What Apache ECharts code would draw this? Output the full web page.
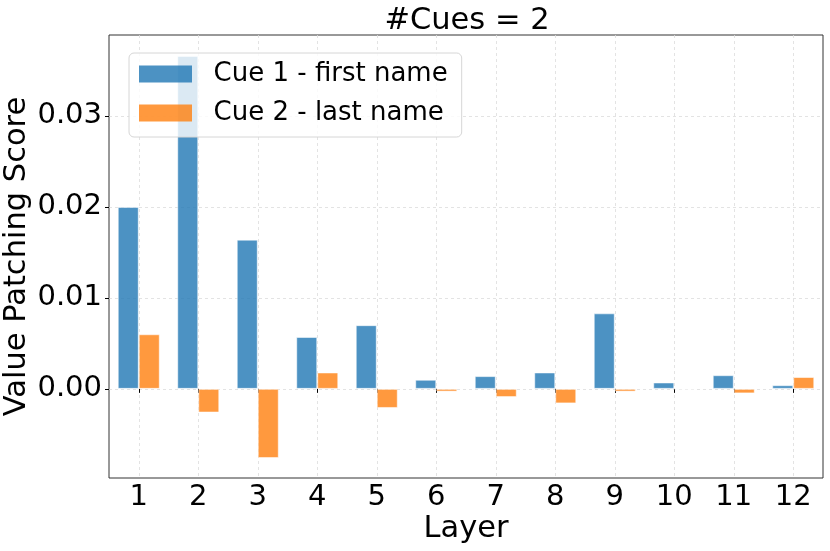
<!DOCTYPE html>
<html>
<head>
<meta charset="utf-8">
<script src="https://cdn.jsdelivr.net/npm/echarts@6/dist/echarts.min.js"></script>
<style>
html,body{margin:0;padding:0;background:#fff;}
#c{width:830px;height:551px;}
</style>
</head>
<body>
<div id="c"></div>
<script>
const layers = [1,2,3,4,5,6,7,8,9,10,11,12];
const cue1 = [0.0200, 0.0366, 0.0164, 0.0057, 0.0070, 0.0010, 0.0014, 0.0018, 0.0083, 0.0007, 0.0015, 0.0004];
const cue2 = [0.0060, -0.0026, -0.0076, 0.0018, -0.0021, -0.0003, -0.0009, -0.0016, -0.0003, -0.00003, -0.0005, 0.0013];
const seriesNames = ['Cue 1 - first name', 'Cue 2 - last name'];
const yTicks = [0, 0.01, 0.02, 0.03];
const titleText = '#Cues = 2';
const xName = 'Layer';
const yName = 'Value Patching Score';

const FONT = 'DejaVu Sans';
const chart = echarts.init(document.getElementById('c'), null, {renderer: 'canvas'});
const pair = (vals) => layers.map((l, i) => [l, vals[i]]);

chart.setOption({
  animation: false,
  backgroundColor: '#fff',
  title: {
    text: titleText, left: 462, top: 1, textAlign: 'center',
    textStyle: {fontFamily: FONT, fontSize: 30.5, fontWeight: 'normal', color: '#000'}
  },
  grid: {left: 109, right: 7, top: 35, bottom: 73, show: true, borderColor: '#333', borderWidth: 1,
    backgroundColor: 'transparent', outerBoundsMode: 'none', containLabel: false},
  legend: {
    orient: 'vertical', left: 129, top: 53,
    data: seriesNames,
    icon: 'rect',
    itemWidth: 53, itemHeight: 17, itemGap: 13,
    padding: [8, 14, 11, 10],
    backgroundColor: 'rgba(255,255,255,0.8)', borderColor: '#d6d6d6', borderWidth: 1, borderRadius: 5,
    formatter: (n) => '  ' + n,
    textStyle: {fontFamily: FONT, fontSize: 26, color: '#000', lineHeight: 26},
    itemStyle: {borderWidth: 0},
    selectedMode: false
  },
  xAxis: {
    type: 'value', min: 0.5, max: 12.5,
    name: xName, nameLocation: 'middle', nameGap: 36, nameMoveOverlap: false,
    nameTextStyle: {fontFamily: FONT, fontSize: 30.5, color: '#000'},
    axisLine: {show: false},
    axisTick: {show: true, length: 4, lineStyle: {color: '#000'}, customValues: layers},
    axisLabel: {fontFamily: FONT, fontSize: 29, color: '#000', margin: 5, customValues: layers,
      formatter: (v) => String(v)},
    splitLine: {show: true, lineStyle: {color: '#dcdcdc', type: [3, 3], width: 0.8}}
  },
  yAxis: {
    type: 'value', min: -0.0098, max: 0.0389,
    name: yName, nameLocation: 'middle', nameGap: 76, nameRotate: 90, nameMoveOverlap: false,
    nameTextStyle: {fontFamily: FONT, fontSize: 30.5, color: '#000'},
    axisLine: {show: false},
    axisTick: {show: true, length: 4, lineStyle: {color: '#000'}, customValues: yTicks},
    axisLabel: {fontFamily: FONT, fontSize: 29, color: '#000', margin: 7, customValues: yTicks,
      formatter: (v) => v.toFixed(2)},
    splitLine: {show: true, lineStyle: {color: '#dcdcdc', type: [3, 3], width: 0.8}}
  },
  series: [
    {name: seriesNames[0], type: 'bar', data: pair(cue1), barWidth: 21, barGap: '0%',
      itemStyle: {color: 'rgba(31,119,180,0.8)', borderColor: 'rgba(255,255,255,0.5)', borderWidth: 1}, z: 3},
    {name: seriesNames[1], type: 'bar', data: pair(cue2), barWidth: 21, barGap: '0%',
      itemStyle: {color: 'rgba(255,127,14,0.8)', borderColor: 'rgba(255,255,255,0.5)', borderWidth: 1}, z: 3}
  ]
});
</script>
</body>
</html>
